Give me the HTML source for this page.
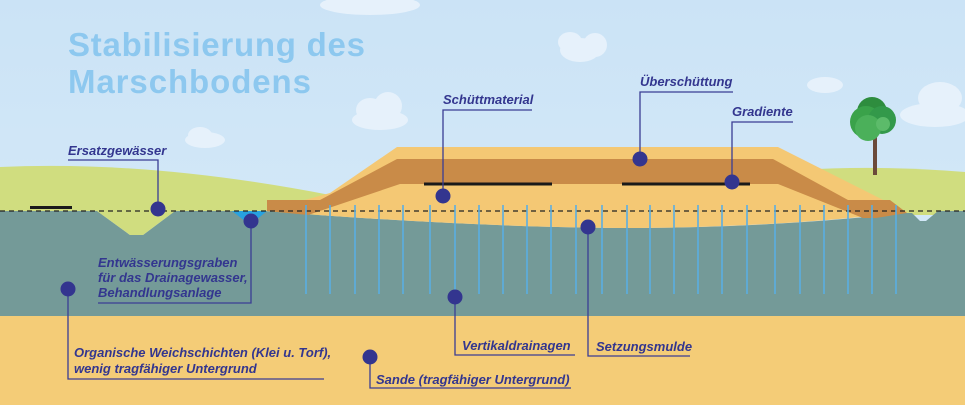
<!DOCTYPE html>
<html><head><meta charset="utf-8"><style>
html,body{margin:0;padding:0;width:965px;height:405px;overflow:hidden;background:#cfe5f7}
svg{display:block}
.l{font-family:"Liberation Sans",sans-serif;font-style:italic;font-weight:bold;font-size:13px;fill:#33368f}
</style></head><body>
<svg width="965" height="405" viewBox="0 0 965 405" xmlns="http://www.w3.org/2000/svg">
<defs><linearGradient id="sky" x1="0" y1="0" x2="0" y2="1"><stop offset="0" stop-color="#cbe3f6"/><stop offset="1" stop-color="#d9ecf9"/></linearGradient></defs>
<rect width="965" height="405" fill="url(#sky)"/>
<!-- clouds -->
<g fill="#e6f1fb">
<ellipse cx="380" cy="120" rx="28" ry="10"/><ellipse cx="370" cy="110" rx="14" ry="12"/><ellipse cx="388" cy="106" rx="14" ry="14"/>
<ellipse cx="205" cy="140" rx="20" ry="8"/><ellipse cx="200" cy="135" rx="12" ry="8"/>
<ellipse cx="580" cy="50" rx="20" ry="12"/><ellipse cx="570" cy="42" rx="12" ry="10"/><ellipse cx="595" cy="45" rx="12" ry="12"/>
<ellipse cx="825" cy="85" rx="18" ry="8"/>
<ellipse cx="935" cy="115" rx="35" ry="12"/><ellipse cx="940" cy="98" rx="22" ry="16"/>
<ellipse cx="370" cy="5" rx="50" ry="10"/>
</g>
<text x="68" y="56" font-family="Liberation Sans,sans-serif" font-weight="bold" font-size="33" fill="#8dc8ef" textLength="297">Stabilisierung des</text>
<text x="68" y="93" font-family="Liberation Sans,sans-serif" font-weight="bold" font-size="33" fill="#8dc8ef" textLength="243">Marschbodens</text>
<!-- hills -->
<path d="M0 167 Q150 160 330 195 L330 215 L0 215 Z" fill="#d0dd7f"/>
<path d="M800 170 Q880 165 965 172 L965 215 L800 215 Z" fill="#d0dd7f"/>
<!-- tree -->
<rect x="873" y="135" width="4" height="40" fill="#6b4a3a"/>
<circle cx="872" cy="112" r="15" fill="#2e8d3e"/><circle cx="866" cy="122" r="16" fill="#3aa24a"/><circle cx="882" cy="120" r="14" fill="#33994a"/><circle cx="868" cy="128" r="13" fill="#4bb05a"/><circle cx="883" cy="124" r="7" fill="#5cbb6a"/>
<!-- teal layer -->
<path d="M0 211 L97 211 L130 235 L143 235 L175 211 L265 211 Q480 228 640 228 Q780 227 905 213 L912 213 L920 221 L926 221 L938 211 L965 211 L965 318 L0 318 Z" fill="#749a98"/>
<path d="M97 211 L130 235 L143 235 L175 211 Z" fill="#d0dd7f"/>
<rect x="0" y="316" width="965" height="89" fill="#f4cc77"/>
<path d="M232 211 L267 211 L250 225 Z" fill="#27a2e0"/>
<!-- dike sand -->
<path d="M265 211 L330 193 L397 147 L778 147 L907 212 Q780 227 640 228 Q480 228 265 211 Z" fill="#f4c874"/>
<!-- brown band -->
<path d="M267 200 L320 200 L397 159 L773 159 L848 200 L890 200 L907 213 L876 218 L863 218 L778 184 L400 184 L308 215 L267 211 Z" fill="#c98b48"/>
<!-- black bars -->
<rect x="30" y="206" width="42" height="3" fill="#1a1a1a"/>
<rect x="424" y="182.5" width="128" height="3" fill="#1a1a1a"/>
<rect x="622" y="182.5" width="128" height="3" fill="#1a1a1a"/>
<!-- dashed line -->
<line x1="0" y1="211" x2="965" y2="211" stroke="#222" stroke-width="1.2" stroke-dasharray="5,4"/>
<!-- drains -->
<g stroke="#5aaee2" stroke-width="1.6">
<line x1="306" y1="205" x2="306" y2="294"/><line x1="330" y1="205" x2="330" y2="294"/><line x1="355" y1="205" x2="355" y2="294"/><line x1="379" y1="205" x2="379" y2="294"/><line x1="403" y1="205" x2="403" y2="294"/><line x1="430" y1="205" x2="430" y2="294"/><line x1="455" y1="205" x2="455" y2="294"/><line x1="479" y1="205" x2="479" y2="294"/><line x1="503" y1="205" x2="503" y2="294"/><line x1="527" y1="205" x2="527" y2="294"/><line x1="551" y1="205" x2="551" y2="294"/><line x1="576" y1="205" x2="576" y2="294"/><line x1="602" y1="205" x2="602" y2="294"/><line x1="627" y1="205" x2="627" y2="294"/><line x1="650" y1="205" x2="650" y2="294"/><line x1="674" y1="205" x2="674" y2="294"/><line x1="698" y1="205" x2="698" y2="294"/><line x1="722" y1="205" x2="722" y2="294"/><line x1="747" y1="205" x2="747" y2="294"/><line x1="775" y1="205" x2="775" y2="294"/><line x1="800" y1="205" x2="800" y2="294"/><line x1="824" y1="205" x2="824" y2="294"/><line x1="848" y1="205" x2="848" y2="294"/><line x1="872" y1="205" x2="872" y2="294"/><line x1="896" y1="205" x2="896" y2="294"/>
</g>
<!-- callouts -->
<g stroke="#3a3d94" stroke-width="1.3" fill="none">
<polyline points="68,160 158,160 158,209"/>
<polyline points="251,221 251,303 98,303"/>
<polyline points="68,289 68,379 324,379"/>
<polyline points="370,357 370,388 571,388"/>
<polyline points="455,297 455,355 575,355"/>
<polyline points="588,227 588,356 690,356"/>
<polyline points="443,196 443,110 532,110"/>
<polyline points="640,159 640,92 733,92"/>
<polyline points="732,182 732,122 793,122"/>
</g>
<g fill="#33358f">
<circle cx="158" cy="209" r="7.5"/><circle cx="251" cy="221" r="7.5"/><circle cx="68" cy="289" r="7.5"/><circle cx="370" cy="357" r="7.5"/><circle cx="455" cy="297" r="7.5"/><circle cx="588" cy="227" r="7.5"/><circle cx="443" cy="196" r="7.5"/><circle cx="640" cy="159" r="7.5"/><circle cx="732" cy="182" r="7.5"/>
</g>
<text class="l" x="68" y="155">Ersatzgewässer</text>
<text class="l" x="98" y="267">Entwässerungsgraben</text>
<text class="l" x="98" y="282">für das Drainagewasser,</text>
<text class="l" x="98" y="297">Behandlungsanlage</text>
<text class="l" x="74" y="357">Organische Weichschichten (Klei u. Torf),</text>
<text class="l" x="74" y="373">wenig tragfähiger Untergrund</text>
<text class="l" x="376" y="384">Sande (tragfähiger Untergrund)</text>
<text class="l" x="462" y="350">Vertikaldrainagen</text>
<text class="l" x="596" y="351">Setzungsmulde</text>
<text class="l" x="443" y="104">Schüttmaterial</text>
<text class="l" x="640" y="86">Überschüttung</text>
<text class="l" x="732" y="116">Gradiente</text>
</svg>
</body></html>
